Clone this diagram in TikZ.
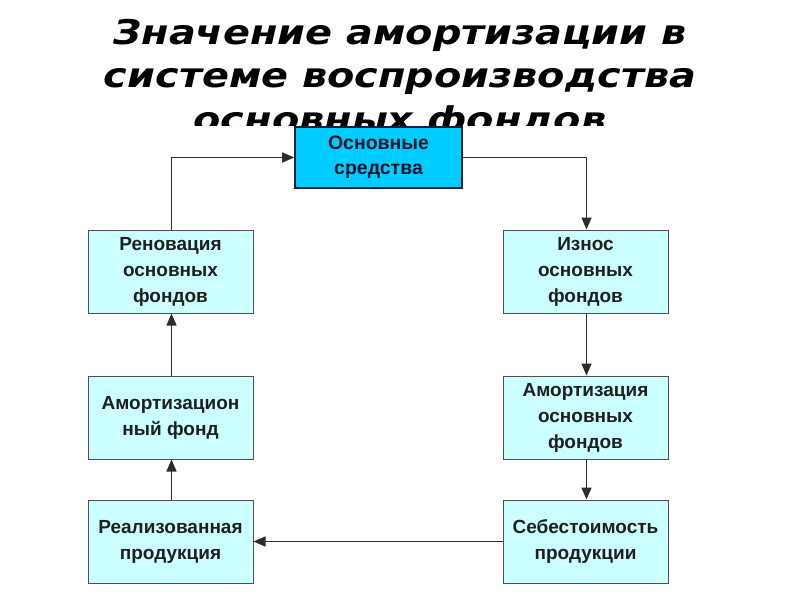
\documentclass[tikz,border=0pt]{standalone}
\usepackage{fontspec}
\setmainfont{Liberation Sans}
\newfontfamily\titlefont[FakeStretch=1.17]{DejaVu Sans}
\usetikzlibrary{arrows.meta}
\definecolor{topfill}{RGB}{0,204,255}
\definecolor{boxfill}{RGB}{204,255,255}
\definecolor{topline}{RGB}{20,30,60}
\definecolor{boxline}{RGB}{80,80,80}
\definecolor{conn}{RGB}{45,45,45}
\tikzset{
  topbox/.style={draw=topline, line width=1.6pt, fill=topfill, minimum width=167pt, minimum height=61pt, inner sep=0pt, align=center, font=\fontsize{19.5}{25}\selectfont\bfseries, text=topline!70!black},
  cyclebox/.style={draw=boxline, line width=1pt, fill=boxfill, minimum width=165pt, minimum height=83pt, inner sep=0pt, align=center, font=\fontsize{19}{26}\selectfont\bfseries, text=black!88},
  titletext/.style={anchor=base, inner sep=0pt, font=\titlefont\fontsize{34}{43}\selectfont\bfseries\itshape},
  conline/.style={draw=conn, line width=1.5pt, -{Triangle[length=12pt,width=10pt]}}
}
\begin{document}
\begin{tikzpicture}[x=1pt,y=-1pt]
\useasboundingbox (0,0) rectangle (800,600);
\node[titletext] (t1) at (400,44) {Значение амортизации в};
\node[titletext] (t2) at (400,87) {системе воспроизводства};
\begin{scope}
\clip (0,0) rectangle (800,125);
\node[titletext] (t3) at (400,131) {основных фондов};
\end{scope}
\node[topbox] (os) at (378.5,157.5) {Основные\\средства};
\node[cyclebox] (ren) at (170.5,271.5) {Реновация\\основных\\фондов};
\node[cyclebox] (af) at (170.5,417.5) {Амортизацион\\ный фонд};
\node[cyclebox] (rp) at (170.5,541.5) {Реализованная\\продукция};
\node[cyclebox] (izn) at (585.5,271.5) {Износ\\основных\\фондов};
\node[cyclebox] (am) at (585.5,417.5) {Амортизация\\основных\\фондов};
\node[cyclebox] (seb) at (585.5,541.5) {Себестоимость\\продукции};
\coordinate (cr) at (586.5,157.5);
\coordinate (cl) at (171.5,157.5);
\draw[conline] (os.east) -- (cr) -- (izn.north -| cr);
\draw[conline] (izn.south -| cr) -- (am.north -| cr);
\draw[conline] (am.south -| cr) -- (seb.north -| cr);
\draw[conline] (seb.west) -- (rp.east);
\draw[conline] (rp.north -| cl) -- (af.south -| cl);
\draw[conline] (af.north -| cl) -- (ren.south -| cl);
\draw[conline] (ren.north -| cl) -- (cl) -- (os.west);
\end{tikzpicture}
\end{document}
